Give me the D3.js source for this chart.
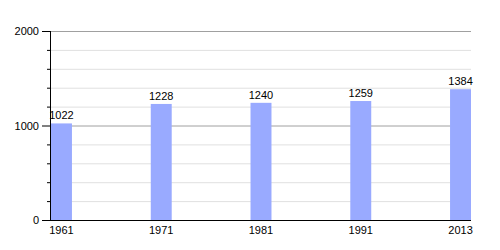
<!DOCTYPE html>
<html><head><meta charset="utf-8">
<script src="https://cdn.jsdelivr.net/npm/d3@7"></script>
<style>body{margin:0;background:#fff}svg{display:block}</style>
</head><body>
<svg id="c" width="500" height="250"></svg>
<script>
const years = ["1961","1971","1981","1991","2013"];
const population = [1022,1228,1240,1259,1384];
const majorTicks = [0,1000,2000];
const minorTicks = [200,400,600,800,1200,1400,1600,1800];

const svg = d3.select("#c");
const font = "Liberation Sans, Arial, sans-serif";
const x0 = 50, x1 = 471, yTop = 31, yBot = 220;
const y = d3.scaleLinear().domain([0,2000]).range([yBot,yTop]);
const x = d3.scaleBand().domain(years).range([x0 + 1, x1]).paddingInner(0.79).paddingOuter(0);

// minor grid
svg.append("g").selectAll("line").data(minorTicks).join("line")
  .attr("x1", x0).attr("x2", x1).attr("y1", d=>y(d)+0.5).attr("y2", d=>y(d)+0.5)
  .attr("stroke", "#e0e0e0").attr("stroke-width", 1);
// major grid
svg.append("g").selectAll("line").data(majorTicks.filter(d=>d>0)).join("line")
  .attr("x1", x0).attr("x2", x1).attr("y1", d=>y(d)+0.5).attr("y2", d=>y(d)+0.5)
  .attr("stroke", "#a0a0a0").attr("stroke-width", 1);

// bars
svg.append("g").selectAll("rect").data(years).join("rect")
  .attr("x", d=>x(d)).attr("width", x.bandwidth())
  .attr("y", (d,i)=>y(population[i])).attr("height", (d,i)=>yBot - y(population[i]))
  .attr("fill", "#99aaff");

// value labels
svg.append("g").selectAll("text").data(years).join("text")
  .attr("x", d=>x(d)+x.bandwidth()/2).attr("y", (d,i)=>y(population[i]) - 4)
  .attr("text-anchor","middle").attr("font-family", font).attr("font-size", 11).attr("fill","#000")
  .text((d,i)=>population[i]);

// x axis line
svg.append("line").attr("x1", x0).attr("x2", x1).attr("y1", yBot+0.5).attr("y2", yBot+0.5)
  .attr("stroke","#000").attr("stroke-width",1);
// x labels
svg.append("g").selectAll("text").data(years).join("text")
  .attr("x", d=>x(d)+x.bandwidth()/2).attr("y", yBot+14)
  .attr("text-anchor","middle").attr("font-family", font).attr("font-size", 11).attr("fill","#000")
  .text(d=>d);

// y axis
svg.append("line").attr("x1", x0+0.5).attr("x2", x0+0.5).attr("y1", yTop).attr("y2", yBot+1)
  .attr("stroke","#000").attr("stroke-width",1);
svg.append("g").selectAll("line").data(majorTicks).join("line")
  .attr("x1", x0-8).attr("x2", x0).attr("y1", d=>y(d)+0.5).attr("y2", d=>y(d)+0.5)
  .attr("stroke","#000");
svg.append("g").selectAll("line").data(minorTicks).join("line")
  .attr("x1", x0-3).attr("x2", x0).attr("y1", d=>y(d)+0.5).attr("y2", d=>y(d)+0.5)
  .attr("stroke","#000");
svg.append("g").selectAll("text").data(majorTicks).join("text")
  .attr("x", x0-11).attr("y", d=>y(d)+4)
  .attr("text-anchor","end").attr("font-family", font).attr("font-size", 11).attr("fill","#000")
  .text(d=>d);
</script>
</body></html>
